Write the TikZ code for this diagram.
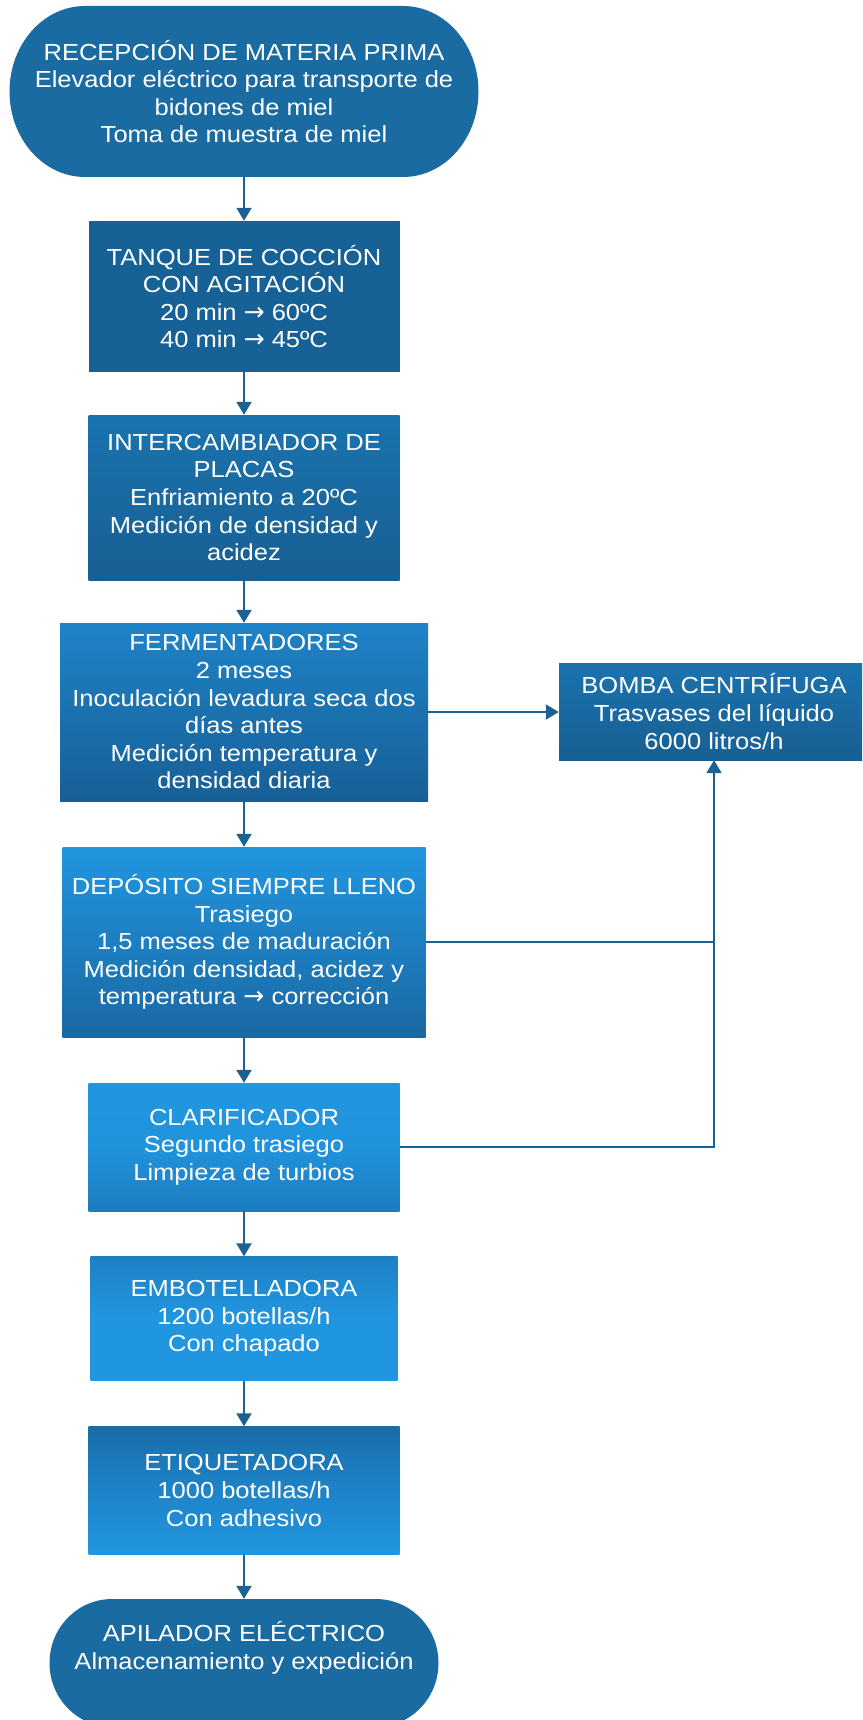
\documentclass[tikz,border=0pt]{standalone}
\usepackage{fontspec}
\setmainfont{Liberation Sans}[FakeStretch=1.1]
\newfontfamily\arrowfont{DejaVu Sans}
\usetikzlibrary{arrows.meta,shadings}

% palette
\definecolor{linec}{HTML}{1B6194}
\definecolor{termc}{HTML}{1A6BA1}
\definecolor{darkc}{HTML}{166196}
\definecolor{midtop}{HTML}{1B73AE}
\definecolor{middark}{HTML}{175F93}
\definecolor{fermtop}{HTML}{1F83C8}
\definecolor{fermbot}{HTML}{175F96}
\definecolor{brightc}{HTML}{2196E0}
\definecolor{depbot}{HTML}{1A68A3}
\definecolor{clarmid}{HTML}{2093DC}
\definecolor{clarbot}{HTML}{1D7CC0}
\definecolor{embtop}{HTML}{1E80C4}
\definecolor{etiqtop}{HTML}{1A6CA7}
\definecolor{etiqmid}{HTML}{1E84C9}

% arrow sign used inside the texts
\newcommand\rarr{{\arrowfont\fontsize{25}{27.6}\selectfont →}}

% flowchart terminator: centre x, centre y, width, height
\newcommand\terminator[4]{%
  \fill[termc] ({#1-#3/2+0.161*#3},{#2+#4/2}) -- ({#1+#3/2-0.161*#3},{#2+#4/2})
    arc[start angle=90, end angle=-90, x radius={0.161*#3}, y radius={#4/2}]
    -- ({#1-#3/2+0.161*#3},{#2-#4/2})
    arc[start angle=270, end angle=90, x radius={0.161*#3}, y radius={#4/2}]
    -- cycle;}

\tikzset{
  txt/.style={text=white, align=center, inner sep=0pt,
    font=\fontsize{23.2}{27.6}\selectfont},
  stepbox/.style={txt, rectangle, draw=none},
  termnode/.style={txt, rectangle, draw=none, fill=none},
  flow/.style={draw=linec, line width=2pt, -{Triangle[width=15pt,length=13pt]}},
  link/.style={draw=linec, line width=2pt},
}

\begin{document}
\begin{tikzpicture}[x=1pt, y=1pt]
\useasboundingbox (0,0) rectangle (862,-1720);
\clip (0,0) rectangle (862,-1720);

% start terminator
\terminator{244}{-91.5}{469}{171}
\node[termnode, minimum width=469, minimum height=171] (term) at (244,-91.5)
  {RECEPCIÓN DE MATERIA PRIMA\\Elevador eléctrico para transporte de\\bidones de miel\\Toma de muestra de miel};

\node[stepbox, fill=darkc, minimum width=311, minimum height=151] (tanque) at (244,-296.5)
  {TANQUE DE COCCIÓN\\CON AGITACIÓN\\20 min \rarr{} 60ºC\\40 min \rarr{} 45ºC};

\node[stepbox, top color=midtop, bottom color=middark, minimum width=311, minimum height=165] (inter) at (244,-497.5)
  {INTERCAMBIADOR DE\\PLACAS\\Enfriamiento a 20ºC\\Medición de densidad y\\acidez};

\node[stepbox, top color=fermtop, bottom color=fermbot, minimum width=368, minimum height=178] (ferm) at (244,-712)
  {FERMENTADORES\\2 meses\\Inoculación levadura seca dos\\días antes\\Medición temperatura y\\densidad diaria};

\node[stepbox, top color=midtop, bottom color=middark, minimum width=310, minimum height=97] (bomba) at (714,-711.5)
  {BOMBA CENTRÍFUGA\\Trasvases del líquido\\6000 litros/h};

\node[stepbox, top color=brightc, bottom color=depbot, minimum width=363, minimum height=190] (dep) at (244,-942)
  {DEPÓSITO SIEMPRE LLENO\\Trasiego\\1,5 meses de maduración\\Medición densidad, acidez y\\temperatura \rarr{} corrección};

\node[stepbox, top color=brightc, bottom color=clarbot, middle color=clarmid, minimum width=311, minimum height=128] (clar) at (244,-1147)
  {CLARIFICADOR\\Segundo trasiego\\Limpieza de turbios};

\node[stepbox, top color=embtop, bottom color=brightc, middle color=brightc, minimum width=307, minimum height=124] (emb) at (244,-1318.5)
  {EMBOTELLADORA\\1200 botellas/h\\Con chapado};

\node[stepbox, top color=etiqtop, bottom color=brightc, middle color=etiqmid, minimum width=311, minimum height=128] (etiq) at (244,-1490.5)
  {ETIQUETADORA\\1000 botellas/h\\Con adhesivo};

% end terminator
\terminator{244}{-1663}{389}{128}
\node[termnode, minimum width=389, minimum height=128] (apil) at (244,-1663) {};
\node[txt] (apiltxt) at (244,-1648) {APILADOR ELÉCTRICO\\Almacenamiento y expedición};

% main line
\draw[flow] (term.south) -- (tanque.north);
\draw[flow] (tanque.south) -- (inter.north);
\draw[flow] (inter.south) -- (ferm.north);
\draw[flow] (ferm.south) -- (dep.north);
\draw[flow] (dep.south) -- (clar.north);
\draw[flow] (clar.south) -- (emb.north);
\draw[flow] (emb.south) -- (etiq.north);
\draw[flow] (etiq.south) -- (apil.north);

% transfers through the centrifugal pump
\draw[flow] (ferm.east) -- (ferm.east -| bomba.west);
\draw[flow] (clar.east) -| (bomba.south);
\draw[link] (dep.east) -- (dep.east -| bomba.south);
\end{tikzpicture}
\end{document}
